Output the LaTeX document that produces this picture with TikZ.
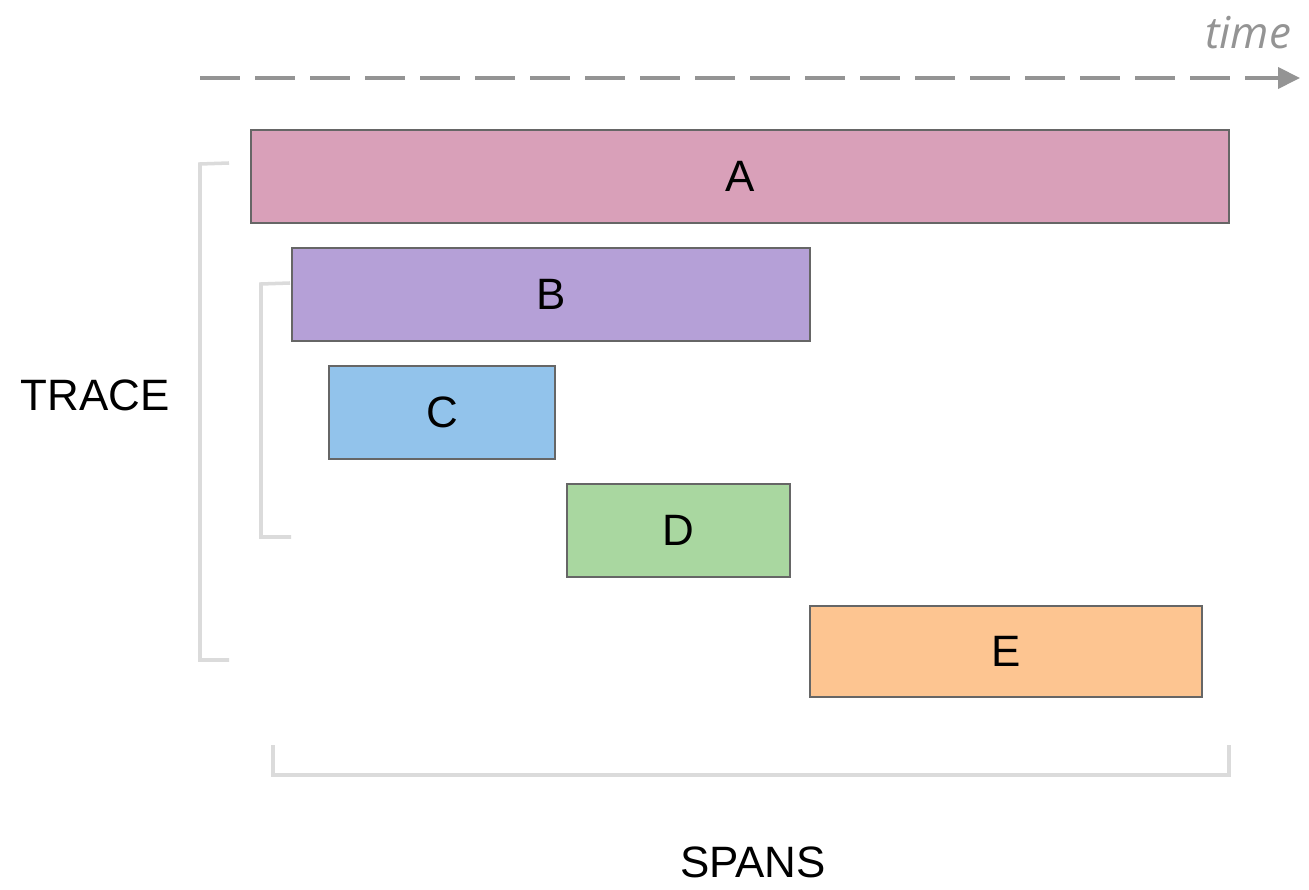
\documentclass[tikz,border=0pt]{standalone}
\usepackage{fontspec}
\setmainfont{Liberation Sans}
\newfontfamily\timefont{Open Sans}
\usepackage{tikz}
\usetikzlibrary{arrows.meta}

\definecolor{spanA}{HTML}{D9A0B9}
\definecolor{spanB}{HTML}{B5A0D7}
\definecolor{spanC}{HTML}{92C3EB}
\definecolor{spanD}{HTML}{A9D7A0}
\definecolor{spanE}{HTML}{FDC591}

\begin{document}
\begin{tikzpicture}
        \tikzset{span/.style = {shape=rectangle,draw=black!60,line width=0.8pt,minimum height=0.93cm,font=\fontsize{12.5}{15}\selectfont}}
        \tikzset{brace/.style = {draw=black!14,line width=1pt}}
        \tikzset{timeline/.style = {draw=black!42,line width=1.1pt,dash pattern=on 0.40cm off 0.15cm,-{Triangle[length=2.2mm,width=2.1mm]}}}
        \useasboundingbox (0,0) rectangle (13.09,8.89);
        \node[span,fill=spanA,minimum width=9.78cm] (a) at (7.40,7.125) {A};
        \node[span,fill=spanB,minimum width=5.18cm] (b) at (5.51,5.945) {B};
        \node[span,fill=spanC,minimum width=2.26cm] (c) at (4.42,4.765) {C};
        \node[span,fill=spanD,minimum width=2.23cm] (d) at (6.785,3.585) {D};
        \node[span,fill=spanE,minimum width=3.92cm,minimum height=0.91cm] (e) at (10.06,2.375) {E};
        % time axis
        \coordinate (t0) at (2.00,8.11);
        \coordinate (t1) at (13.00,8.11);
        \draw[timeline] (t0) -- (t1);
        \node[text=black!42,font=\timefont\itshape\fontsize{12.5}{15}\selectfont] (time) at (12.48,8.56) {time};
        % brackets
        \coordinate (tr1) at (2.29,7.26);
        \coordinate (tr2) at (2.29,2.29);
        \draw[brace] (tr1) -- (2.00,7.25) -- (2.00,2.29) -- (tr2);
        \coordinate (sub1) at (2.90,6.06);
        \coordinate (sub2) at (2.91,3.52);
        \draw[brace] (sub1) -- (2.61,6.05) -- (2.61,3.52) -- (sub2);
        \coordinate (sp1) at (2.73,1.44);
        \coordinate (sp2) at (12.29,1.44);
        \draw[brace] (sp1) -- (2.73,1.14) -- (12.29,1.14) -- (sp2);
        \node[font=\fontsize{12.5}{15}\selectfont] (trace) at (0.95,4.94) {TRACE};
        \node[font=\fontsize{12.5}{15}\selectfont] (spans) at (7.53,0.27) {SPANS};
    \end{tikzpicture}
\end{document}
